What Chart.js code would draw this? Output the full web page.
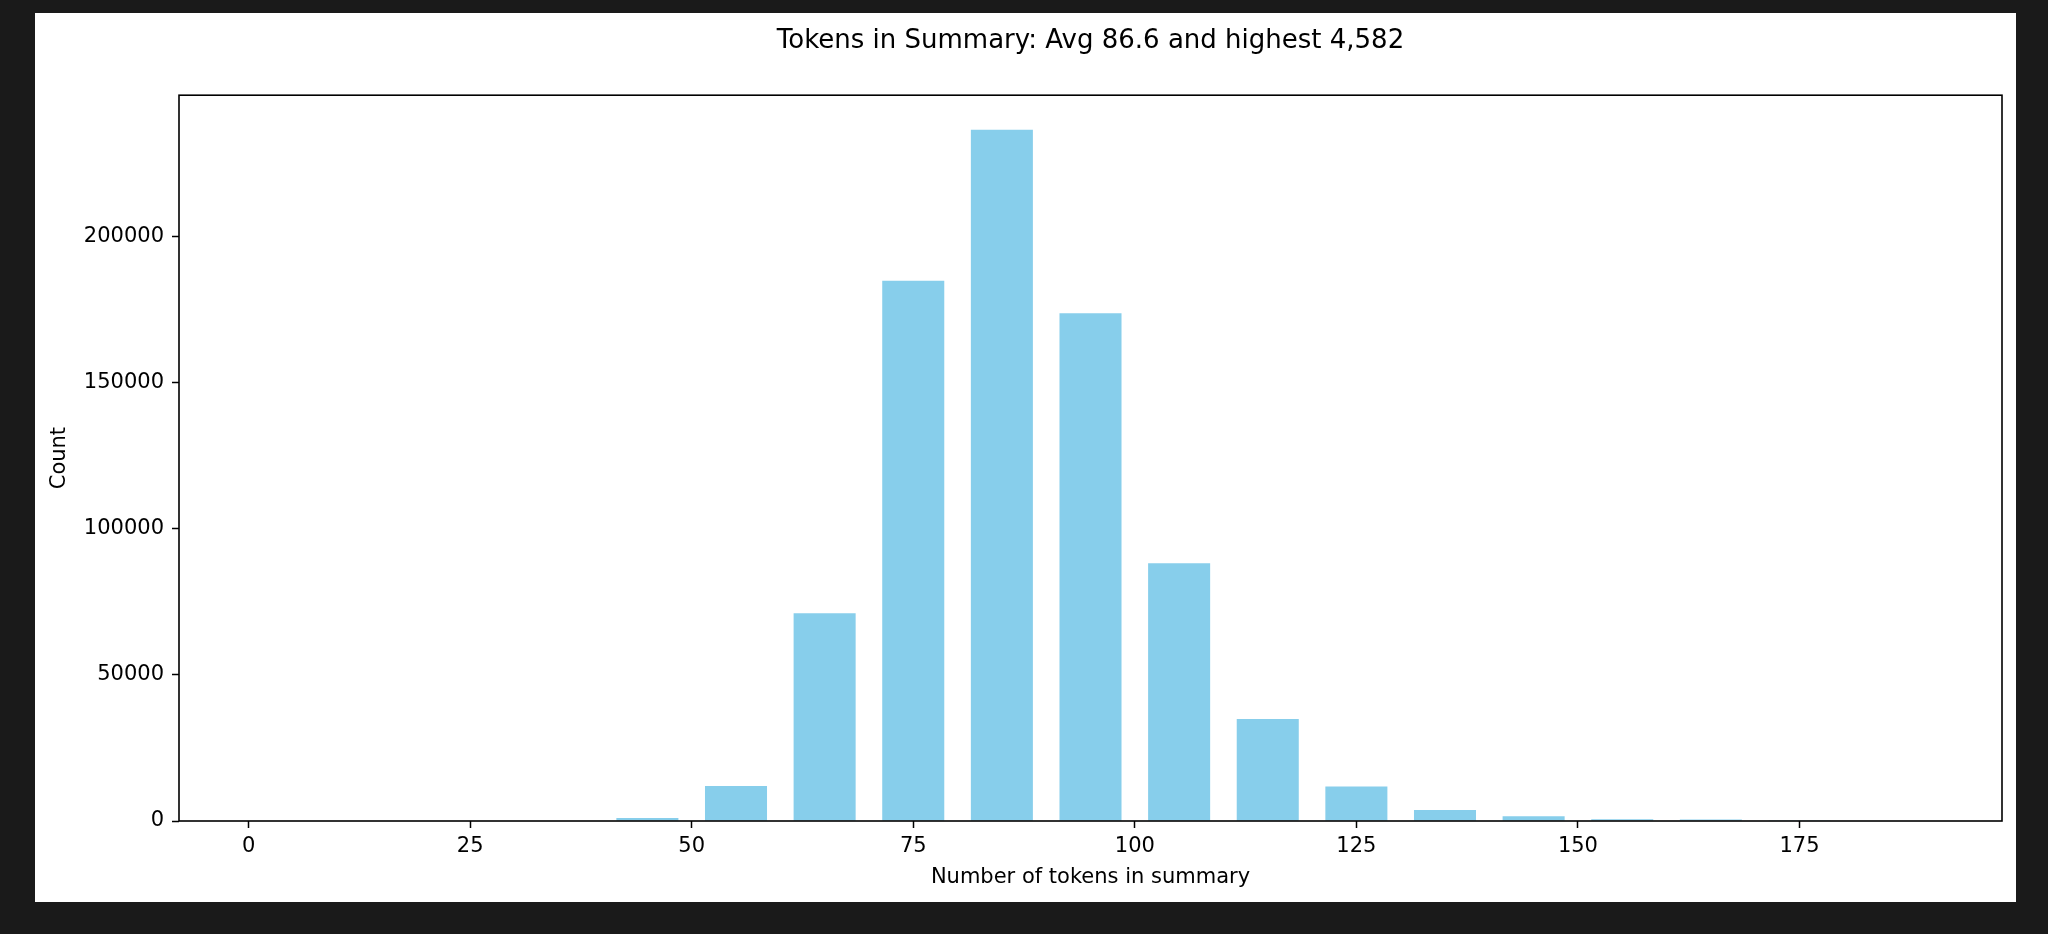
<!DOCTYPE html>
<html>
<head>
<meta charset="utf-8">
<title>Tokens in Summary</title>
<script src="https://cdn.jsdelivr.net/npm/chart.js@4.4.1/dist/chart.umd.min.js"></script>
<style>
  html, body { margin: 0; padding: 0; background: #1a1a1a; width: 2048px; height: 934px; overflow: hidden; }
  #panel { position: absolute; left: 35px; top: 13px; width: 1981px; height: 889px; background: #fff; }
  #chart { display: block; }
</style>
</head>
<body>
<div id="panel"><canvas id="chart" width="1981" height="889"></canvas></div>
<script>
// histogram bins (left edges, width 10) and counts
const binStarts = [0, 10, 20, 30, 40, 50, 60, 70, 80, 90, 100, 110, 120, 130, 140, 150, 160, 170, 180]
const counts    = [0, 0, 0, 0, 1000, 12000, 71100, 185000, 236700, 173900, 88300, 34900, 11800, 3800, 1600, 600, 550, 80, 0]
const binWidth  = 10

const xTicks = [0, 25, 50, 75, 100, 125, 150, 175]
const yTicks = [0, 50000, 100000, 150000, 200000]

const titleText  = 'Tokens in Summary: Avg 86.6 and highest 4,582'
const xLabelText = 'Number of tokens in summary'
const yLabelText = 'Count'

const FONT = "'DejaVu Sans', sans-serif"

// matplotlib-like limits: 5% margin around the drawn bars (rwidth 0.7)
const barLeft  = binStarts[0] + binWidth * 0.15
const barRight = binStarts[binStarts.length - 1] + binWidth * 0.85
const xPad = (barRight - barLeft) * 0.05
const yMax = Math.max(...counts) * 1.05

const frameBox = {
  id: 'frameBox',
  afterDatasetsDraw(chart) {
    const { ctx, chartArea: a } = chart
    ctx.save()
    ctx.strokeStyle = '#000'
    ctx.lineWidth = 1.6
    ctx.strokeRect(a.left, a.top, a.right - a.left, a.bottom - a.top)
    ctx.restore()
  },
}

new Chart(document.getElementById('chart'), {
  type: 'bar',
  data: {
    datasets: [{
      label: 'Count',
      data: binStarts.map((s, i) => ({ x: s + binWidth / 2, y: counts[i] })),
      backgroundColor: '#87CEEB',
      borderWidth: 0,
      categoryPercentage: 1.0,
      barPercentage: 0.7,
    }],
  },
  options: {
    responsive: false, devicePixelRatio: 1,
    animation: false,
    layout: { padding: { left: 0, right: 14, top: 0, bottom: 0 } },
    plugins: {
      legend: { display: false },
      tooltip: { enabled: false },
      title: {
        display: true, text: titleText, color: '#000', fullSize: false,
        font: { family: FONT, size: 26, weight: 'normal', lineHeight: 1.2 },
        padding: { top: 13, bottom: 38 },
      },
    },
    scales: {
      x: {
        type: 'linear', offset: false,
        min: barLeft - xPad, max: barRight + xPad,
        afterBuildTicks: s => { s.ticks = xTicks.map(v => ({ value: v })) },
        afterFit: s => { s.height = 81 },
        grid: { display: true, drawOnChartArea: false, drawTicks: true, tickLength: 7, tickWidth: 1.5, tickColor: '#000', offset: false },
        border: { display: false },
        ticks: { color: '#000', padding: 6, maxRotation: 0, autoSkip: false, font: { family: FONT, size: 21 }, callback: v => String(v) },
        title: { display: true, text: xLabelText, color: '#000', font: { family: FONT, size: 21 }, padding: { top: 0, bottom: 12 } },
      },
      y: {
        type: 'linear', min: 0, max: yMax,
        afterBuildTicks: s => { s.ticks = yTicks.map(v => ({ value: v })) },
        afterFit: s => { s.width = 144 },
        grid: { display: true, drawOnChartArea: false, drawTicks: true, tickLength: 7, tickWidth: 1.5, tickColor: '#000' },
        border: { display: false },
        ticks: { color: '#000', padding: 8, autoSkip: false, font: { family: FONT, size: 21 }, callback: v => String(v) },
        title: { display: true, text: yLabelText, color: '#000', font: { family: FONT, size: 21 }, padding: { top: 12, bottom: 0 } },
      },
    },
  },
  plugins: [frameBox],
})
</script>
</body>
</html>
